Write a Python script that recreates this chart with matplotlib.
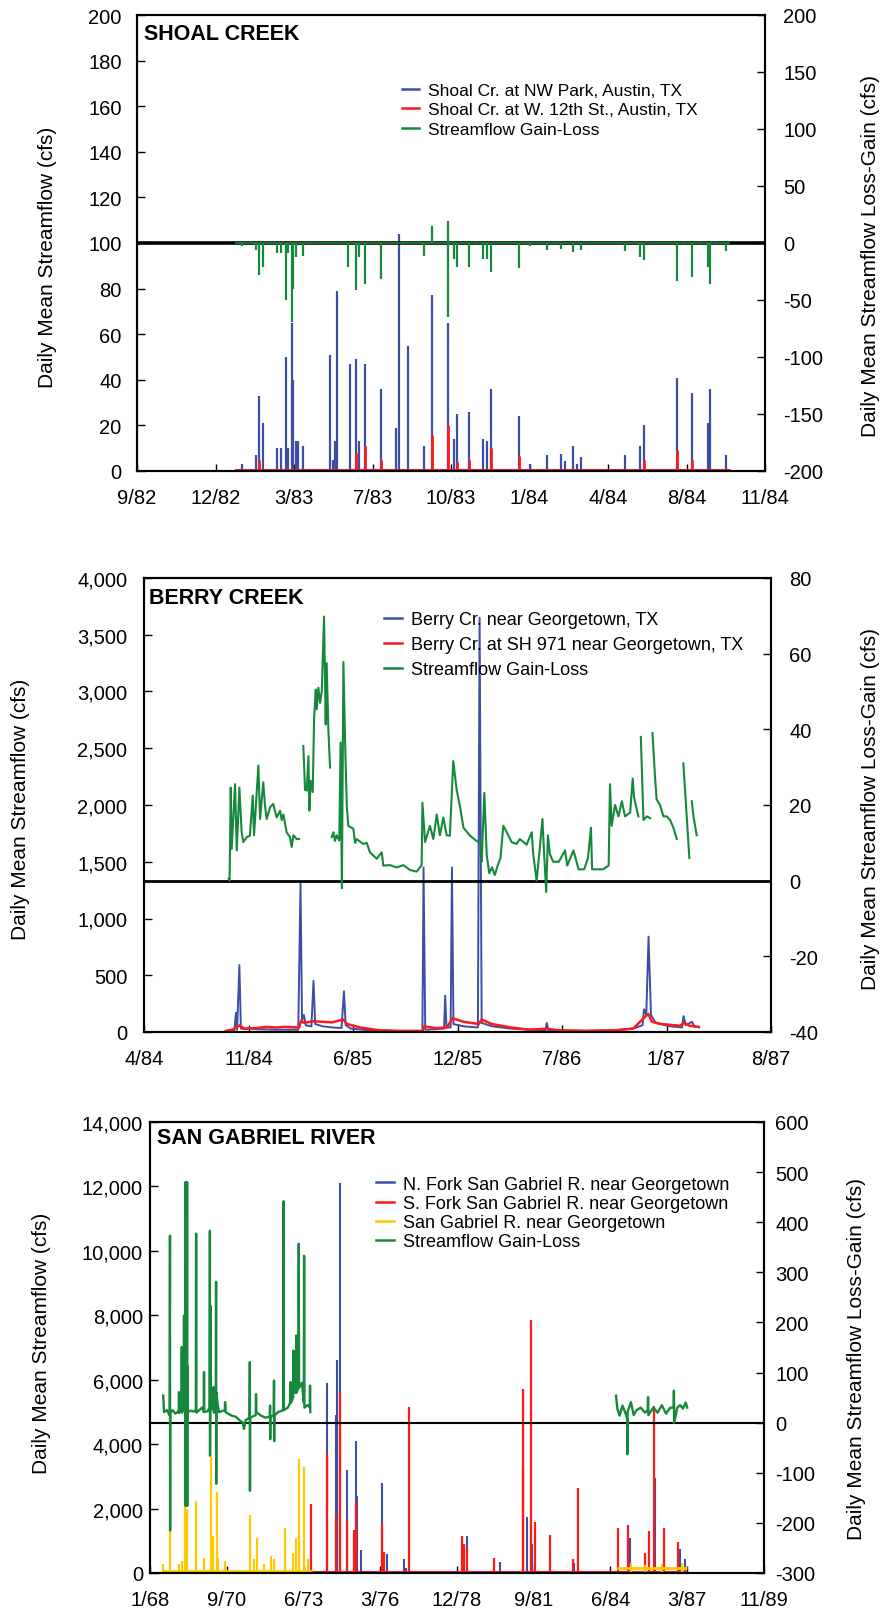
import numpy as np
import matplotlib
matplotlib.use('Agg')
import matplotlib.pyplot as plt
from matplotlib.lines import Line2D
from matplotlib.ticker import FuncFormatter

plt.rcParams['font.family'] = ['Liberation Sans', 'DejaVu Sans']
plt.rcParams['axes.unicode_minus'] = False

BLUE = '#3c4ea5'
RED = '#ff1a1a'
GREEN = '#16883c'
YELLOW = '#ffc800'
nan = float('nan')

# ---------------- Shoal Creek (dates as decimal years, values in cfs) ----------------
shoal_ticks = ['9/82', '12/82', '3/83', '7/83', '10/83', '1/84', '4/84', '8/84', '11/84']
shoal_span = [1982.667, 1984.833]
shoal_record = [1983.005, 1984.713]
shoal_nw = [(1983.028, 3), (1983.077, 7), (1983.087, 33), (1983.103, 21), (1983.149, 10),
            (1983.163, 10), (1983.180, 50), (1983.189, 10), (1983.201, 65), (1983.206, 40),
            (1983.216, 13), (1983.221, 13), (1983.241, 11), (1983.331, 51), (1983.344, 5),
            (1983.351, 13), (1983.357, 79), (1983.400, 47), (1983.424, 49), (1983.431, 13),
            (1983.454, 47), (1983.510, 36), (1983.561, 19), (1983.572, 104), (1983.601, 55),
            (1983.658, 11), (1983.686, 77), (1983.740, 65), (1983.761, 14), (1983.770, 25),
            (1983.812, 26), (1983.860, 14), (1983.874, 13), (1983.887, 36), (1983.986, 24),
            (1984.023, 3), (1984.081, 7), (1984.128, 7.5), (1984.143, 4.5), (1984.170, 11),
            (1984.186, 3), (1984.198, 6), (1984.350, 7), (1984.401, 11), (1984.417, 20),
            (1984.530, 41), (1984.581, 34), (1984.635, 21), (1984.643, 36), (1984.700, 7)]
shoal_12th = [(1983.087, 5), (1983.424, 8), (1983.454, 11), (1983.510, 5), (1983.686, 16),
              (1983.740, 20), (1983.770, 4), (1983.812, 5), (1983.887, 10), (1983.986, 6.5),
              (1984.417, 5), (1984.530, 9), (1984.581, 5)]
shoal_gainloss = [(1983.028, -3), (1983.077, -6), (1983.087, -28), (1983.103, -21), (1983.149, -9),
                  (1983.163, -9), (1983.180, -50), (1983.189, -9), (1983.201, -69), (1983.206, -40),
                  (1983.216, -12), (1983.241, -11), (1983.396, -21), (1983.424, -41), (1983.431, -12),
                  (1983.454, -36), (1983.510, -32), (1983.658, -11), (1983.686, 15), (1983.740, 19),
                  (1983.740, -65), (1983.761, -14), (1983.770, -21), (1983.812, -21), (1983.860, -14),
                  (1983.874, -14), (1983.887, -25), (1983.986, -22), (1984.023, -3), (1984.081, -6),
                  (1984.128, -5), (1984.170, -8), (1984.198, -6), (1984.350, -7), (1984.401, -12),
                  (1984.417, -15), (1984.530, -33), (1984.581, -30), (1984.635, -21), (1984.643, -36),
                  (1984.700, -7)]

# ---------------- Berry Creek ----------------
berry_ticks = ['4/84', '11/84', '6/85', '12/85', '7/86', '1/87', '8/87']
berry_span = [1984.25, 1987.583]
berry_near = [(1984.685, 5), (1984.730, 10), (1984.739, 170), (1984.745, 20), (1984.757, 590),
              (1984.765, 30), (1984.850, 25), (1984.950, 20), (1985.070, 20), (1985.082, 1310),
              (1985.090, 100), (1985.100, 150), (1985.110, 60), (1985.140, 50), (1985.151, 450),
              (1985.160, 70), (1985.200, 50), (1985.250, 40), (1985.300, 35), (1985.313, 360),
              (1985.322, 60), (1985.350, 30), (1985.450, 15), (1985.600, 10), (1985.730, 5),
              (1985.736, 1450), (1985.745, 20), (1985.800, 25), (1985.845, 30), (1985.851, 320),
              (1985.858, 40), (1985.880, 40), (1985.887, 1450), (1985.895, 70), (1985.950, 50),
              (1986.025, 40), (1986.034, 3650), (1986.045, 80), (1986.100, 50), (1986.200, 30),
              (1986.300, 20), (1986.385, 15), (1986.391, 80), (1986.400, 15), (1986.600, 10),
              (1986.750, 15), (1986.850, 30), (1986.900, 60), (1986.908, 200), (1986.920, 150),
              (1986.932, 840), (1986.945, 150), (1986.970, 80), (1987.050, 50), (1987.110, 40),
              (1987.118, 140), (1987.130, 60), (1987.163, 90), (1987.175, 50), (1987.200, 40)]
berry_sh971 = [(1984.685, 10), (1984.720, 20), (1984.740, 40), (1984.760, 60), (1984.780, 30),
               (1984.850, 35), (1984.900, 45), (1984.950, 40), (1985.000, 45), (1985.075, 40),
               (1985.085, 100), (1985.100, 80), (1985.150, 95), (1985.200, 90), (1985.250, 85),
               (1985.310, 110), (1985.330, 70), (1985.400, 40), (1985.500, 15), (1985.600, 10),
               (1985.730, 10), (1985.740, 50), (1985.800, 35), (1985.860, 40), (1985.890, 120),
               (1985.950, 90), (1986.030, 70), (1986.045, 110), (1986.100, 70), (1986.200, 40),
               (1986.300, 20), (1986.390, 30), (1986.450, 15), (1986.600, 10), (1986.750, 15),
               (1986.850, 30), (1986.930, 160), (1986.950, 90), (1987.000, 70), (1987.100, 55),
               (1987.120, 80), (1987.150, 55), (1987.200, 45)]
berry_gainloss = [(1984.700, 0.5), (1984.705, 0), (1984.711, 24.6), (1984.716, 8.4), (1984.734, 25.5),
                  (1984.743, 8), (1984.757, 24.6), (1984.769, 12.8), (1984.778, 10.2), (1984.796, 11.5),
                  (1984.813, 11.9), (1984.828, 22.5), (1984.835, 12), (1984.858, 30.4), (1984.867, 16.3),
                  (1984.884, 26), (1984.893, 20), (1984.902, 16.3), (1984.920, 19.4), (1984.937, 20.3),
                  (1984.955, 16.7), (1984.973, 18.5), (1984.982, 16), (1984.991, 17.5), (1985.008, 12.8),
                  (1985.026, 11.5), (1985.035, 8.9), (1985.044, 12), (1985.062, 11), (1985.074, 11),
                  (1985.085, nan),
                  (1985.097, 35.6), (1985.106, 24), (1985.115, 23.8), (1985.124, 32.9), (1985.129, 18.5),
                  (1985.136, 26.4), (1985.147, 23.4), (1985.154, 42.6), (1985.163, 50.5), (1985.168, 45.3),
                  (1985.177, 51), (1985.186, 47), (1985.195, 50), (1985.207, 69.8), (1985.216, 41.3),
                  (1985.221, 57.5), (1985.230, 40), (1985.239, 29.9),
                  (1985.243, nan),
                  (1985.248, 11.5), (1985.257, 12.8), (1985.265, 10.5), (1985.274, 12), (1985.288, 10.6),
                  (1985.295, 36.5), (1985.302, -2), (1985.310, 57.8), (1985.319, 36.5), (1985.328, 19.8),
                  (1985.336, 14.5), (1985.363, 13.7), (1985.372, 10), (1985.380, 11), (1985.416, 9.7),
                  (1985.434, 10), (1985.451, 7.5), (1985.487, 5.8), (1985.514, 7.5), (1985.522, 4),
                  (1985.558, 4.1), (1985.593, 3.5), (1985.629, 4.1), (1985.664, 2.8), (1985.700, 2.4),
                  (1985.726, 4.1), (1985.730, 20.6), (1985.744, 10.2), (1985.770, 14.5), (1985.788, 11),
                  (1985.806, 17.5), (1985.823, 12), (1985.841, 16.7), (1985.859, 12), (1985.876, 11.9),
                  (1985.894, 31.6), (1985.912, 24), (1985.930, 19.5), (1985.948, 14), (1985.983, 11.9),
                  (1986.018, 10.5), (1986.040, 10), (1986.045, 5), (1986.059, 23.2), (1986.072, 6.7),
                  (1986.085, 2), (1986.100, 3.5), (1986.115, 1.5), (1986.130, 4), (1986.145, 6),
                  (1986.160, 14.5), (1986.178, 12.8), (1986.204, 10.2), (1986.230, 9.7), (1986.248, 11),
                  (1986.284, 9.5), (1986.311, 12.8), (1986.319, 7), (1986.337, 0), (1986.350, 6.5),
                  (1986.368, 16.3), (1986.376, 8), (1986.388, -3), (1986.397, 12), (1986.408, 7),
                  (1986.425, 5), (1986.455, 5), (1986.488, 8), (1986.500, 4), (1986.533, 8),
                  (1986.560, 3), (1986.590, 3), (1986.610, 6), (1986.626, 14), (1986.632, 3),
                  (1986.660, 3), (1986.690, 3), (1986.720, 4), (1986.727, 25.5), (1986.736, 14.5),
                  (1986.754, 20), (1986.772, 17), (1986.790, 21), (1986.807, 17), (1986.834, 18),
                  (1986.848, 27), (1986.855, 22), (1986.878, 17),
                  (1986.885, nan),
                  (1986.891, 38), (1986.905, 16), (1986.923, 17), (1986.941, 16.5),
                  (1986.947, nan),
                  (1986.953, 39), (1986.967, 27), (1986.975, 21.5), (1986.993, 20), (1987.011, 17),
                  (1987.029, 17), (1987.047, 16), (1987.064, 14), (1987.082, 11),
                  (1987.100, nan),
                  (1987.117, 31), (1987.135, 17), (1987.149, 6),
                  (1987.155, nan),
                  (1987.162, 21), (1987.171, 17), (1987.188, 12)]

# ---------------- San Gabriel River ----------------
sg_ticks = ['1/68', '9/70', '6/73', '3/76', '12/78', '9/81', '6/84', '3/87', '11/89']
sg_span = [1968.0, 1989.833]
sg_north = [(1974.29, 5900), (1974.61, 4900), (1974.66, 6600), (1974.757, 12100), (1975.02, 3200),
            (1975.33, 4100), (1975.36, 2400), (1975.52, 700), (1976.24, 2800), (1976.44, 600),
            (1977.03, 450), (1977.10, 150), (1979.28, 1150), (1980.44, 350), (1981.40, 1750),
            (1981.57, 900), (1982.22, 500), (1983.07, 300), (1985.07, 1100), (1985.96, 2950),
            (1986.85, 750), (1987.03, 420)]
sg_south = [(1973.71, 2150), (1974.29, 3700), (1974.61, 1800), (1974.757, 5600), (1975.02, 1600),
            (1975.26, 1350), (1975.33, 2200), (1976.24, 1550), (1976.31, 650), (1977.20, 5150),
            (1979.09, 1150), (1979.15, 900), (1979.27, 780), (1980.24, 470), (1981.25, 3250),
            (1981.28, 5720), (1981.55, 7850), (1981.69, 1580), (1982.22, 1180), (1983.03, 430),
            (1983.21, 2650), (1984.65, 1400), (1985.01, 1480), (1985.60, 620), (1985.76, 1300),
            (1985.92, 5180), (1986.28, 1400), (1986.79, 950)]
sg_main = [(1968.47, 270), (1968.71, 1300), (1969.03, 270), (1969.13, 370), (1969.24, 4050),
           (1969.33, 2000), (1969.64, 2250), (1969.92, 480), (1970.16, 3600), (1970.23, 1150),
           (1970.37, 2500), (1970.42, 480), (1970.67, 370), (1971.55, 1800), (1971.70, 420),
           (1971.79, 1080), (1972.06, 270), (1972.30, 530), (1972.41, 420), (1972.80, 1400),
           (1973.10, 610), (1973.18, 1080), (1973.29, 3550), (1973.49, 3300), (1973.62, 420),
           (1985.10, 300), (1985.60, 250), (1986.20, 280), (1986.90, 300)]
# record periods and typical low flow for each gage
sg_north_record = [(1973.70, 1987.10, 20)]
sg_south_record = [(1973.60, 1987.10, 45)]
sg_main_record = [(1968.45, 1973.75, 60), (1984.60, 1987.10, 140)]
sg_gainloss = [(1968.47, 54), (1968.50, 21), (1968.60, 25), (1968.69, 15), (1968.70, 20),
               (1968.71, 373), (1968.715, -215), (1968.72, 20), (1968.80, 25), (1968.90, 18),
               (1969.00, 22), (1969.02, 20), (1969.03, 61), (1969.04, 20), (1969.10, 25),
               (1969.12, 22), (1969.13, 151), (1969.14, 20), (1969.20, 30), (1969.21, 214),
               (1969.22, 30), (1969.25, 35), (1969.26, 480), (1969.265, -166), (1969.27, 40),
               (1969.31, 30), (1969.32, 480), (1969.325, -166), (1969.33, 114), (1969.34, 21),
               (1969.45, 24), (1969.55, 22), (1969.63, 25), (1969.64, 377), (1969.65, 20),
               (1969.75, 25), (1969.85, 30), (1969.91, 22), (1969.92, 101), (1969.93, 21),
               (1970.05, 23), (1970.12, 30), (1970.13, 383), (1970.135, -66), (1970.14, 40),
               (1970.15, 233), (1970.16, 25), (1970.25, 30), (1970.26, 71), (1970.27, 20),
               (1970.34, 40), (1970.35, 281), (1970.355, -122), (1970.36, 60), (1970.40, 40),
               (1970.45, 21), (1970.55, 23), (1970.66, 25), (1970.67, 41), (1970.69, 21),
               (1970.90, 14), (1971.05, 12), (1971.20, 4), (1971.30, 0), (1971.34, -12.6),
               (1971.40, 5), (1971.54, 10), (1971.55, 121), (1971.555, -136), (1971.56, 10),
               (1971.76, 15), (1971.77, 57), (1971.78, 21), (1971.95, 14), (1972.10, 10),
               (1972.26, 12), (1972.27, 34), (1972.275, -33), (1972.28, 12), (1972.40, 14),
               (1972.41, 84), (1972.415, -37), (1972.42, 14), (1972.55, 21), (1972.74, 25),
               (1972.75, 442), (1972.76, 25), (1972.90, 30), (1972.99, 40), (1973.00, 81),
               (1973.01, 40), (1973.09, 50), (1973.10, 144), (1973.11, 60), (1973.14, 60),
               (1973.15, 121), (1973.16, 70), (1973.19, 60), (1973.20, 174), (1973.21, 60),
               (1973.28, 70), (1973.29, 357), (1973.30, 70), (1973.40, 80), (1973.47, 40),
               (1973.48, 333), (1973.49, 30), (1973.60, 35), (1973.68, 30), (1973.69, 74),
               (1973.70, 21),
               (1979.00, nan),
               (1984.57, 54), (1984.62, 27), (1984.70, 14), (1984.80, 34), (1984.90, 20),
               (1984.96, 10), (1984.97, 1), (1984.975, -63), (1984.98, 21), (1985.10, 41),
               (1985.20, 15), (1985.30, 25), (1985.45, 30), (1985.60, 20), (1985.70, 25),
               (1985.71, 51), (1985.72, 15), (1985.90, 30), (1986.05, 20), (1986.20, 35),
               (1986.35, 18), (1986.50, 30), (1986.62, 30), (1986.63, 64), (1986.64, 0),
               (1986.75, 30), (1986.85, 35), (1986.95, 28), (1987.05, 40), (1987.10, 30)]

W, H = 883, 1615
fig = plt.figure(figsize=(W / 100, H / 100), dpi=100)


def add_axes(left, top, right, bottom):
    return fig.add_axes([left / W, 1 - bottom / H, (right - left) / W, (bottom - top) / H])


def xy(pairs):
    arr = np.array(pairs, dtype=float)
    return arr[:, 0], arr[:, 1]


def style(ax, axr, span, labels, ylim, yticks, rlim, rticks, lpad, rpad, comma):
    ax.set_xlim(span)
    ax.set_xticks(np.linspace(span[0], span[1], len(labels)))
    ax.set_xticklabels(labels)
    ax.set_ylim(ylim)
    ax.set_yticks(yticks)
    axr.set_ylim(rlim)
    axr.set_yticks(rticks)
    if comma:
        ax.yaxis.set_major_formatter(FuncFormatter(lambda v, p: f'{v:,.0f}'))
    ax.tick_params(axis='x', direction='in', length=5, width=1, labelsize=14.5, pad=12)
    ax.tick_params(axis='y', direction='in', length=6, width=1, labelsize=14.5, pad=lpad)
    axr.tick_params(axis='y', direction='in', length=6, width=1, labelsize=14.5, pad=rpad)
    for a in (ax, axr):
        for s in a.spines.values():
            s.set_linewidth(1.5)


def legend(axr, labels, colors, anchor, spacing, size):
    handles = [Line2D([], [], color=c, lw=1.8) for c in colors]
    axr.legend(handles, labels, loc='upper left', bbox_to_anchor=anchor, frameon=False,
               fontsize=size, handlelength=1.0, handletextpad=0.5, labelspacing=spacing,
               borderpad=0, borderaxespad=0)


def ylabels(xl, yl, xr, yr):
    fig.text(xl / W, 1 - yl / H, 'Daily Mean Streamflow (cfs)', rotation=90, ha='center',
             va='center', fontsize=15)
    fig.text(xr / W, 1 - yr / H, 'Daily Mean Streamflow Loss-Gain (cfs)', rotation=90,
             ha='center', va='center', fontsize=15)


# ---- panel 1 ----
ax = add_axes(137, 16, 765, 472)
axr = ax.twinx()
ax.hlines(0.5, shoal_record[0], shoal_record[1], color=BLUE, lw=1.5)
x, y = xy(shoal_nw)
ax.vlines(x, 0, y, color=BLUE, lw=1.6)
ax.hlines(0.3, shoal_record[0], shoal_record[1], color=RED, lw=2)
x, y = xy(shoal_12th)
ax.vlines(x, 0, y, color=RED, lw=2)
style(ax, axr, shoal_span, shoal_ticks, (0, 200), range(0, 201, 20), (-200, 200),
      range(-200, 201, 50), 11, 13, False)
axr.axhline(0, color='black', lw=2.6, zorder=1)
axr.hlines(0, shoal_record[0], shoal_record[1], color=GREEN, lw=1.2, zorder=2)
x, y = xy(shoal_gainloss)
axr.vlines(x, 0, y, color=GREEN, lw=1.6, zorder=2)
ax.text(0.011, 0.982, 'SHOAL CREEK', transform=ax.transAxes, fontsize=15.5, fontweight='bold',
        ha='left', va='top')
legend(axr, ['Shoal Cr. at NW Park, Austin, TX', 'Shoal Cr. at W. 12th St., Austin, TX',
             'Streamflow Gain-Loss'], [BLUE, RED, GREEN], (0.422, 0.851), 0.24, 12.5)
ylabels(48, 257, 871, 256)

# ---- panel 2 ----
ax = add_axes(144, 579, 771, 1033)
axr = ax.twinx()
x, y = xy(berry_near)
ax.plot(x, y, color=BLUE, lw=1.4)
x, y = xy(berry_sh971)
ax.plot(x, y, color=RED, lw=1.8)
style(ax, axr, berry_span, berry_ticks, (0, 4000), range(0, 4001, 500), (-40, 80),
      range(-40, 81, 20), 12, 13, True)
axr.axhline(0, color='black', lw=2, zorder=1)
x, y = xy(berry_gainloss)
axr.plot(x, y, color=GREEN, lw=1.5, zorder=2)
ax.text(0.008, 0.98, 'BERRY CREEK', transform=ax.transAxes, fontsize=15.5, fontweight='bold',
        ha='left', va='top')
legend(axr, ['Berry Cr. near Georgetown, TX', 'Berry Cr. at SH 971 near Georgetown, TX',
             'Streamflow Gain-Loss'], [BLUE, RED, GREEN], (0.383, 0.927), 0.45, 13)
ylabels(21, 809, 871, 809)

# ---- panel 3 ----
ax = add_axes(150, 1123, 764, 1574)
axr = ax.twinx()
for t0, t1, q in sg_north_record:
    ax.hlines(q, t0, t1, color=BLUE, lw=1.5)
x, y = xy(sg_north)
ax.vlines(x, 0, y, color=BLUE, lw=1.5)
for t0, t1, q in sg_south_record:
    ax.hlines(q, t0, t1, color=RED, lw=2)
x, y = xy(sg_south)
ax.vlines(x, 0, y, color=RED, lw=1.6)
for t0, t1, q in sg_main_record:
    ax.hlines(q, t0, t1, color=YELLOW, lw=2)
x, y = xy(sg_main)
ax.vlines(x, 0, y, color=YELLOW, lw=1.6)
style(ax, axr, sg_span, sg_ticks, (0, 14000), range(0, 14001, 2000), (-300, 600),
      range(-300, 601, 100), 5, 8, True)
axr.axhline(0, color='black', lw=1.5, zorder=1)
x, y = xy(sg_gainloss)
axr.plot(x, y, color=GREEN, lw=1.7, zorder=2)
ax.text(0.011, 0.99, 'SAN GABRIEL RIVER', transform=ax.transAxes, fontsize=15.5,
        fontweight='bold', ha='left', va='top')
legend(axr, ['N. Fork San Gabriel R. near Georgetown', 'S. Fork San Gabriel R. near Georgetown',
             'San Gabriel R. near Georgetown', 'Streamflow Gain-Loss'],
       [BLUE, RED, YELLOW, GREEN], (0.368, 0.881), 0.12, 13)
ylabels(42, 1343, 857, 1359)

fig.savefig('out.png', dpi=100)
